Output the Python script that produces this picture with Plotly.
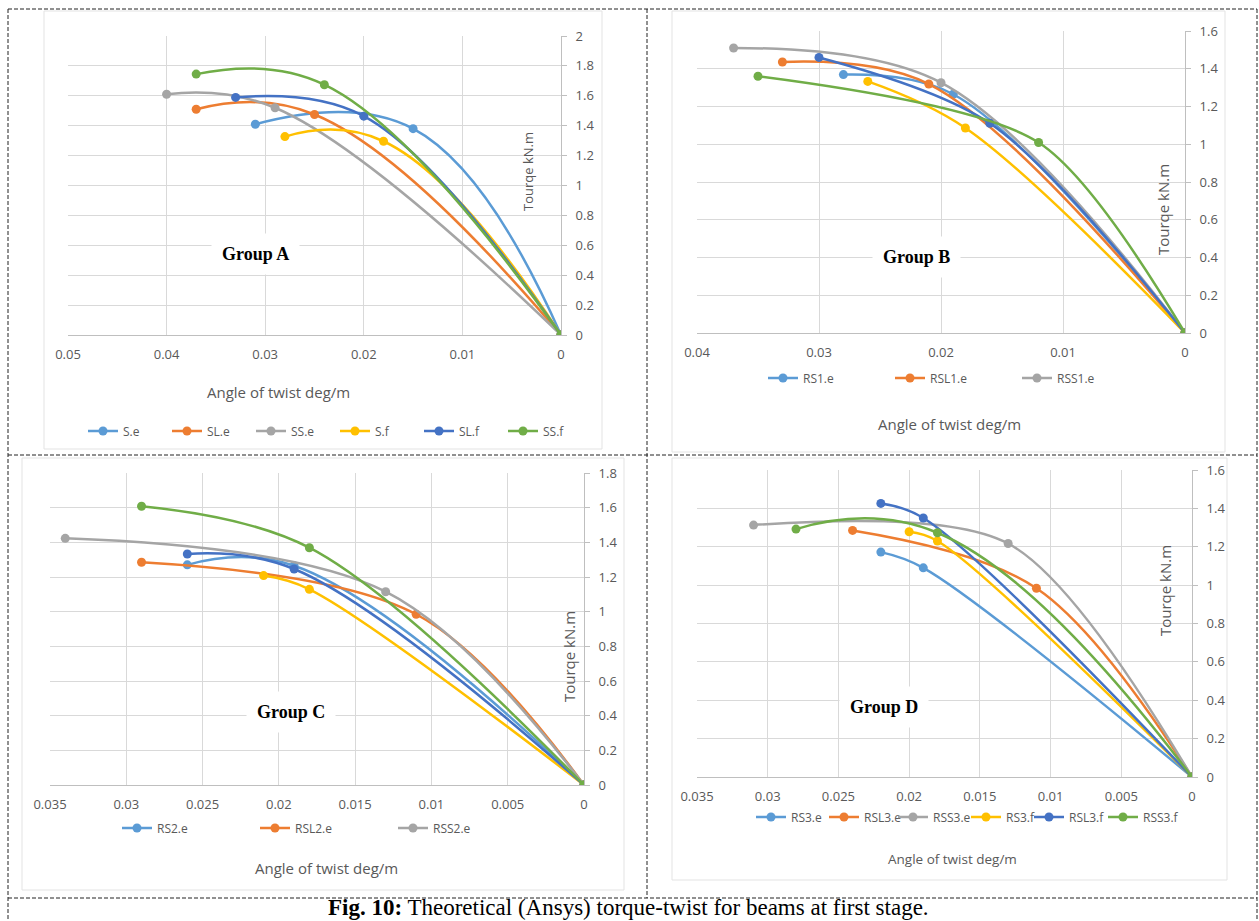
import plotly.graph_objects as go

W, H = 1259, 921

# ---------------- data ----------------
groupA_names = ["S.e", "SL.e", "SS.e", "S.f", "SL.f", "SS.f"]
groupA_x = [[0.031, 0.015, 0], [0.037, 0.025, 0], [0.040, 0.029, 0],
            [0.028, 0.018, 0], [0.033, 0.020, 0], [0.037, 0.024, 0]]
groupA_y = [[1.41, 1.38, 0], [1.51, 1.475, 0], [1.61, 1.52, 0],
            [1.327, 1.296, 0], [1.589, 1.464, 0], [1.745, 1.674, 0]]

groupB_names = ["RS1.e", "RSL1.e", "RSS1.e", "RS1.f", "RSL1.f", "RSS1.f"]
groupB_x = [[0.028, 0.019, 0], [0.033, 0.021, 0], [0.037, 0.020, 0],
            [0.026, 0.018, 0], [0.030, 0.016, 0], [0.035, 0.012, 0]]
groupB_y = [[1.369, 1.265, 0], [1.436, 1.319, 0], [1.51, 1.326, 0],
            [1.333, 1.086, 0], [1.46, 1.111, 0], [1.36, 1.009, 0]]

groupC_names = ["RS2.e", "RSL2.e", "RSS2.e", "RS2.f", "RSL2.f", "RSS2.f"]
groupC_x = [[0.026, 0.019, 0], [0.029, 0.011, 0], [0.034, 0.013, 0],
            [0.021, 0.018, 0], [0.026, 0.019, 0], [0.029, 0.018, 0]]
groupC_y = [[1.27, 1.265, 0], [1.285, 0.985, 0], [1.423, 1.115, 0],
            [1.208, 1.129, 0], [1.333, 1.246, 0], [1.608, 1.369, 0]]

groupD_names = ["RS3.e", "RSL3.e", "RSS3.e", "RS3.f", "RSL3.f", "RSS3.f"]
groupD_x = [[0.022, 0.019, 0], [0.024, 0.011, 0], [0.031, 0.013, 0],
            [0.020, 0.018, 0], [0.022, 0.019, 0], [0.028, 0.018, 0]]
groupD_y = [[1.172, 1.09, 0], [1.285, 0.984, 0], [1.313, 1.217, 0],
            [1.278, 1.23, 0], [1.426, 1.35, 0], [1.292, 1.273, 0]]

group_titles = ["Group A", "Group B", "Group C", "Group D"]
x_title = "Angle of twist deg/m"
y_title = "Tourqe kN.m"
caption = "<b>Fig. 10:</b> Theoretical (Ansys) torque-twist for beams at first stage."

# ---------------- style ----------------
colors = ["#5B9BD5", "#ED7D31", "#A5A5A5", "#FFC000", "#4472C4", "#70AD47"]
GRID = "#D9D9D9"
AXIS = "#BFBFBF"
TXT = "#595959"
SANS = "Open Sans"
SERIF = "Liberation Serif"


def fx(px):
    return px / W


def fy(py):
    return 1 - py / H


# legend entry widths for the compact group-D legend (text-dependent in the original)
legD_widths = [28, 24, 28, 18, 29, 42]

panels = [
    dict(names=groupA_names, xs=groupA_x, ys=groupA_y, xr=[0.05, 0], dx=0.01, yr=[0, 2],
         box=(68, 561, 36, 335), nleg=6, leg=(83, 431, 39), lw=None,
         smooth=[1.25, 1.25, 1.15, 1.3, 1.1, 1.2],
         title_pos=(255, 254), xt=(278, 392, 15), yt=(528, 172, 13)),
    dict(names=groupB_names, xs=groupB_x, ys=groupB_y, xr=[0.04, 0], dx=0.01, yr=[0, 1.6],
         box=(697, 1185, 31, 333), nleg=3, leg=(763, 378, 82), lw=None,
         smooth=[1.0, 1.0, 1.0, 1.0, 0.9, 0.8],
         title_pos=(916, 257), xt=(949, 424, 15), yt=(1163, 210, 15)),
    dict(names=groupC_names, xs=groupC_x, ys=groupC_y, xr=[0.035, 0], dx=0.005, yr=[0, 1.8],
         box=(50, 584, 473, 785), nleg=3, leg=(117, 828, 93), lw=None,
         smooth=[1.2, 1.0, 1.0, 1.0, 1.1, 1.0],
         title_pos=(291, 712), xt=(326, 868, 15), yt=(569, 657, 15)),
    dict(names=groupD_names, xs=groupD_x, ys=groupD_y, xr=[0.035, 0], dx=0.005, yr=[0, 1.6],
         box=(697, 1192, 470, 777), nleg=6, leg=(751, 817, 27), lw=legD_widths,
         smooth=[1.0, 1.0, 0.85, 1.0, 1.0, 1.3],
         title_pos=(884, 707), xt=(952, 859, 13.5), yt=(1165, 591, 15)),
]

fig = go.Figure()
layout = dict(width=W, height=H, margin=dict(l=0, r=0, t=0, b=0, pad=0, autoexpand=False),
              paper_bgcolor="white", plot_bgcolor="white", showlegend=True)
annotations = []
shapes = []


def note(text, px, py, size, family=SANS, color=TXT, **kw):
    annotations.append(dict(text=text, x=fx(px), y=fy(py), xref="paper", yref="paper",
                            xanchor="center", yanchor="middle", showarrow=False,
                            font=dict(family=family, size=size, color=color), **kw))


for i, p in enumerate(panels):
    k = "" if i == 0 else str(i + 1)
    xa, ya = "x" + k, "y" + k
    lg = "legend" + k
    for j, (n, xv, yv) in enumerate(zip(p["names"], p["xs"], p["ys"])):
        extra = {}
        if p["lw"] is not None:
            extra["legendwidth"] = p["lw"][j]
        fig.add_trace(go.Scatter(
            x=xv, y=yv, name=n, mode="lines+markers",
            line=dict(color=colors[j], width=2.5, shape="spline", smoothing=p["smooth"][j]),
            marker=dict(size=9, color=colors[j]),
            xaxis=xa, yaxis=ya, legend=lg, showlegend=j < p["nleg"],
            hoverinfo="skip", **extra))
    x0, x1, y0, y1 = p["box"]
    layout["xaxis" + k] = dict(
        domain=[fx(x0), fx(x1)], range=p["xr"], dtick=p["dx"], tick0=0, anchor=ya,
        showgrid=True, gridcolor=GRID, gridwidth=1, zeroline=False, automargin=False,
        showline=True, linecolor=AXIS, linewidth=1,
        ticks="outside", ticklen=7, tickcolor="rgba(0,0,0,0)",
        tickfont=dict(family=SANS, size=13, color=TXT), fixedrange=True)
    layout["yaxis" + k] = dict(
        domain=[fy(y1), fy(y0)], range=p["yr"], dtick=0.2, tick0=0, anchor=xa, side="right",
        showgrid=True, gridcolor=GRID, gridwidth=1, zeroline=False, automargin=False,
        showline=True, linecolor=AXIS, linewidth=1,
        ticks="outside", ticklen=5, tickcolor=AXIS, ticklabelstandoff=6,
        tickfont=dict(family=SANS, size=13, color=TXT), fixedrange=True)
    lx, ly, ew = p["leg"]
    layout[lg] = dict(orientation="h", x=fx(lx), y=fy(ly), xanchor="left", yanchor="middle",
                      font=dict(family=SANS, size=12, color=TXT), bgcolor="rgba(0,0,0,0)",
                      entrywidth=ew, entrywidthmode="pixels", itemwidth=30)
    tx, ty = p["title_pos"]
    note("<b>%s</b>" % group_titles[i], tx, ty, 18, family=SERIF, color="black",
         bgcolor="white", borderpad=10)
    note(x_title, p["xt"][0], p["xt"][1], p["xt"][2])
    note(y_title, p["yt"][0], p["yt"][1], p["yt"][2], textangle=-90)

note(caption, 628, 907, 23, family=SERIF, color="black")

# faint chart-area borders
for (a, b, c, d) in [(44, 602, 11, 449), (672, 1225, 11, 452), (22, 624, 458, 890), (672, 1227, 458, 880)]:
    shapes.append(dict(type="rect", xref="paper", yref="paper", x0=fx(a), x1=fx(b), y0=fy(d), y1=fy(c),
                       line=dict(color="#E3E3E3", width=1), layer="below"))

# dashed table borders
dash = dict(color="#222222", width=1, dash="4px,2px")
for (a, b, c, d) in [(8, 1257, 9, 9), (8, 1257, 455, 455), (8, 1257, 898, 898),
                     (8, 8, 9, 921), (647, 647, 9, 898), (1257, 1257, 9, 921)]:
    shapes.append(dict(type="line", xref="paper", yref="paper", x0=fx(a), x1=fx(b), y0=fy(c), y1=fy(d),
                       line=dash))

layout["annotations"] = annotations
layout["shapes"] = shapes
fig.update_layout(**layout)
fig.write_html("out.html", config={"displayModeBar": False},
               post_script="document.body.style.margin='0px';document.body.style.overflow='hidden';")
